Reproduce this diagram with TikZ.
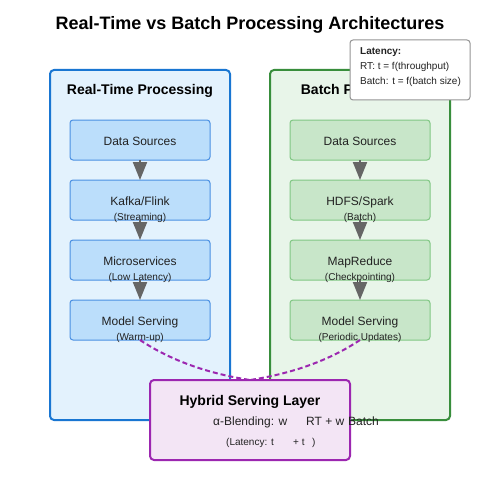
\documentclass[tikz,border=0pt]{standalone}
\usepackage{fontspec}
\setmainfont{Liberation Sans}
\usetikzlibrary{arrows.meta}
\definecolor{rtpanelfill}{HTML}{E3F2FD}
\definecolor{rtpaneldraw}{HTML}{1976D2}
\definecolor{rtboxfill}{HTML}{BBDEFB}
\definecolor{rtboxdraw}{HTML}{4A90E2}
\definecolor{btpanelfill}{HTML}{E8F5E9}
\definecolor{btpaneldraw}{HTML}{388E3C}
\definecolor{btboxfill}{HTML}{C8E6C9}
\definecolor{btboxdraw}{HTML}{81C784}
\definecolor{hyfill}{HTML}{F3E5F5}
\definecolor{hydraw}{HTML}{9C27B0}
\definecolor{arrgray}{HTML}{666666}
\definecolor{txt}{HTML}{222222}
\tikzset{
  panel/.style={line width=2pt, rounded corners=4pt},
  stepbox/.style={line width=1pt, rounded corners=3pt},
  maintext/.style={anchor=base, font=\fontsize{12}{14}\selectfont, text=txt, inner sep=0pt},
  subtext/.style={anchor=base, font=\fontsize{10}{12}\selectfont, text=txt, inner sep=0pt},
  boldtitle/.style={anchor=base, font=\bfseries\fontsize{14}{16}\selectfont, text=black, inner sep=0pt},
  flow/.style={draw=arrgray, line width=2pt, -{Triangle[length=18pt,width=14pt]}, arrgray},
  blend/.style={draw=hydraw, line width=2pt, dash pattern=on 5pt off 3pt},
  legtext/.style={anchor=base west, font=\fontsize{10}{12}\selectfont, text=txt, inner sep=0pt},
}
\begin{document}
\begin{tikzpicture}[x=1pt,y=-1pt]
\useasboundingbox (0,0) rectangle (500,500);
\fill[white] (0,0) rectangle (500,500);
% title
\node[anchor=base, font=\bfseries\fontsize{18}{20}\selectfont, inner sep=0pt] (title) at (250,30) {Real-Time vs Batch Processing Architectures};
% panels
\draw[panel, fill=rtpanelfill, draw=rtpaneldraw] (50,70) rectangle (230,420);
\draw[panel, fill=btpanelfill, draw=btpaneldraw] (270,70) rectangle (450,420);
\node[boldtitle] (rttitle) at (140,95) {Real-Time Processing};
\node[boldtitle] (bttitle) at (360,95) {Batch Processing};
% real-time boxes
\foreach \n/\y in {r1/120,r2/180,r3/240,r4/300}{
  \draw[stepbox, fill=rtboxfill, draw=rtboxdraw] (70,\y) rectangle (210,\y+40);
  \coordinate (\n-top) at (140,\y);
  \coordinate (\n-bot) at (140,\y+40);
}
\foreach \n/\y in {b1/120,b2/180,b3/240,b4/300}{
  \draw[stepbox, fill=btboxfill, draw=btboxdraw] (290,\y) rectangle (430,\y+40);
  \coordinate (\n-top) at (360,\y);
  \coordinate (\n-bot) at (360,\y+40);
}
% arrows
\draw[flow] (r1-bot) -- (r2-top);
\draw[flow] (r2-bot) -- (r3-top);
\draw[flow] (r3-bot) -- (r4-top);
\draw[flow] (b1-bot) -- (b2-top);
\draw[flow] (b2-bot) -- (b3-top);
\draw[flow] (b3-bot) -- (b4-top);
% texts
\node[maintext] (r1t) at (140,145) {Data Sources};
\node[maintext] (r2t) at (140,205) {Kafka/Flink};
\node[subtext] (r2s) at (140,220) {(Streaming)};
\node[maintext] (r3t) at (140,265) {Microservices};
\node[subtext] (r3s) at (140,280) {(Low Latency)};
\node[maintext] (r4t) at (140,325) {Model Serving};
\node[subtext] (r4s) at (140,340) {(Warm-up)};
\node[maintext] (b1t) at (360,145) {Data Sources};
\node[maintext] (b2t) at (360,205) {HDFS/Spark};
\node[subtext] (b2s) at (360,220) {(Batch)};
\node[maintext] (b3t) at (360,265) {MapReduce};
\node[subtext] (b3s) at (360,280) {(Checkpointing)};
\node[maintext] (b4t) at (360,325) {Model Serving};
\node[subtext] (b4s) at (360,340) {(Periodic Updates)};
% dashed blending curves
\coordinate (hytop) at (250,380);
\draw[blend] (r4-bot) .. controls (170,360) and (206.7,373.3) .. (hytop);
\draw[blend] (b4-bot) .. controls (330,360) and (293.3,373.3) .. (hytop);
% legend
\draw[fill=white, draw=arrgray!70, line width=1pt, rounded corners=3pt] (350,40) rectangle (470,100);
\node[legtext, font=\bfseries\fontsize{10}{12}\selectfont] (leg1) at (360,55) {Latency:};
\node[legtext] (leg2) at (360,70) {RT: t = f(throughput)};
\node[legtext] (leg3) at (360,85) {Batch: t = f(batch size)};
% hybrid layer
\draw[line width=2pt, rounded corners=4pt, fill=hyfill, draw=hydraw] (150,380) rectangle (350,460);
\node[boldtitle] (hytitle) at (250,405) {Hybrid Serving Layer};
\node[anchor=base west, font=\fontsize{12}{14}\selectfont, text=txt, inner sep=0pt] (bl1) at (213,425) {α-Blending: w};
\node[anchor=base west, font=\fontsize{12}{14}\selectfont, text=txt, inner sep=0pt] (bl2) at (306,425) {RT + w};
\node[anchor=base west, font=\fontsize{12}{14}\selectfont, text=txt, inner sep=0pt] (bl3) at (348,425) {Batch};
\node[anchor=base west, font=\fontsize{10}{12}\selectfont, text=txt, inner sep=0pt] (la1) at (226,445) {(Latency: t};
\node[anchor=base west, font=\fontsize{10}{12}\selectfont, text=txt, inner sep=0pt] (la2) at (293,445) {+ t};
\node[anchor=base west, font=\fontsize{10}{12}\selectfont, text=txt, inner sep=0pt] (la3) at (312,445) {)};
\end{tikzpicture}
\end{document}
